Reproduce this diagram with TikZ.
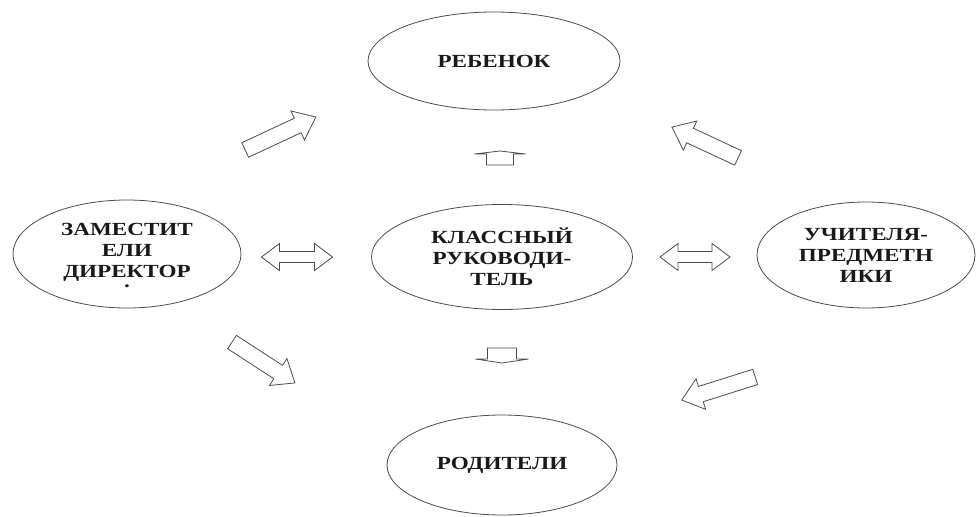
\documentclass[tikz,border=0pt]{standalone}
\usepackage{fontspec}
\newfontfamily\lblfont[FakeStretch=1.25]{Liberation Serif}
\usetikzlibrary{shapes.geometric}
\tikzstyle{ell}=[draw=black!70, line width=0.8pt, ellipse, inner sep=0pt, align=center, text=black!90, font=\lblfont\bfseries\fontsize{18.5}{21}\selectfont]
\tikzstyle{lbl}=[inner sep=0pt, align=center, text=black!90, font=\lblfont\bfseries\fontsize{18.5}{21}\selectfont]
\tikzstyle{barrow}=[draw=black!70, line width=0.8pt, line join=miter]
% block arrow: x, y, angle, length, shaft width, head width, head length
\newcommand{\onearrow}[7]{%
  \draw[barrow, shift={(#1,#2)}, rotate=#3]
    ({-#4/2},{-#5/2}) -- ({#4/2-#7},{-#5/2}) -- ({#4/2-#7},{-#6/2}) -- ({#4/2},0)
    -- ({#4/2-#7},{#6/2}) -- ({#4/2-#7},{#5/2}) -- ({-#4/2},{#5/2}) -- cycle;}
\newcommand{\twoarrow}[7]{%
  \draw[barrow, shift={(#1,#2)}, rotate=#3]
    ({-#4/2},0) -- ({-#4/2+#7},{#6/2}) -- ({-#4/2+#7},{#5/2}) -- ({#4/2-#7},{#5/2})
    -- ({#4/2-#7},{#6/2}) -- ({#4/2},0) -- ({#4/2-#7},{-#6/2}) -- ({#4/2-#7},{-#5/2})
    -- ({-#4/2+#7},{-#5/2}) -- ({-#4/2+#7},{-#6/2}) -- cycle;}

\begin{document}
\begin{tikzpicture}[x=1pt,y=-1pt]
  \useasboundingbox (0,0) rectangle (978,517);
  \node [ell, minimum width=252, minimum height=98] (child) at (494,61) {РЕБЕНОК};
  \node [ell, minimum width=228, minimum height=108] (deputy) at (127,254) {};
  \node [lbl] (deputytext) at (127,256) {ЗАМЕСТИТ\\ЕЛИ\\ДИРЕКТОР\\[-11pt].};
  \node [ell, minimum width=261, minimum height=105] (tutor) at (502,257) {КЛАССНЫЙ\\РУКОВОДИ-\\ТЕЛЬ};
  \node [ell, minimum width=218, minimum height=106] (teachers) at (866,255) {УЧИТЕЛЯ-\\ПРЕДМЕТН\\ИКИ};
  \node [ell, minimum width=230, minimum height=100] (parents) at (502,465) {РОДИТЕЛИ};
  % diagonal arrows
  \onearrow{280.5}{133.5}{25}{78}{16}{32}{20}
  \onearrow{705}{142.5}{155}{73}{16}{32}{20}
  \onearrow{263.5}{362.5}{-33}{75}{16}{32}{20}
  \onearrow{718.5}{388.5}{197.5}{77}{16}{32}{20}
  % double arrows
  \twoarrow{297}{257}{0}{71}{11}{27}{18}
  \twoarrow{695}{257}{0}{70}{11}{27}{18}
  % small arrows
  \onearrow{500}{158}{90}{14}{27}{51}{3}
  \onearrow{502}{355.5}{-90}{15}{29}{53}{4}
\end{tikzpicture}
\end{document}
